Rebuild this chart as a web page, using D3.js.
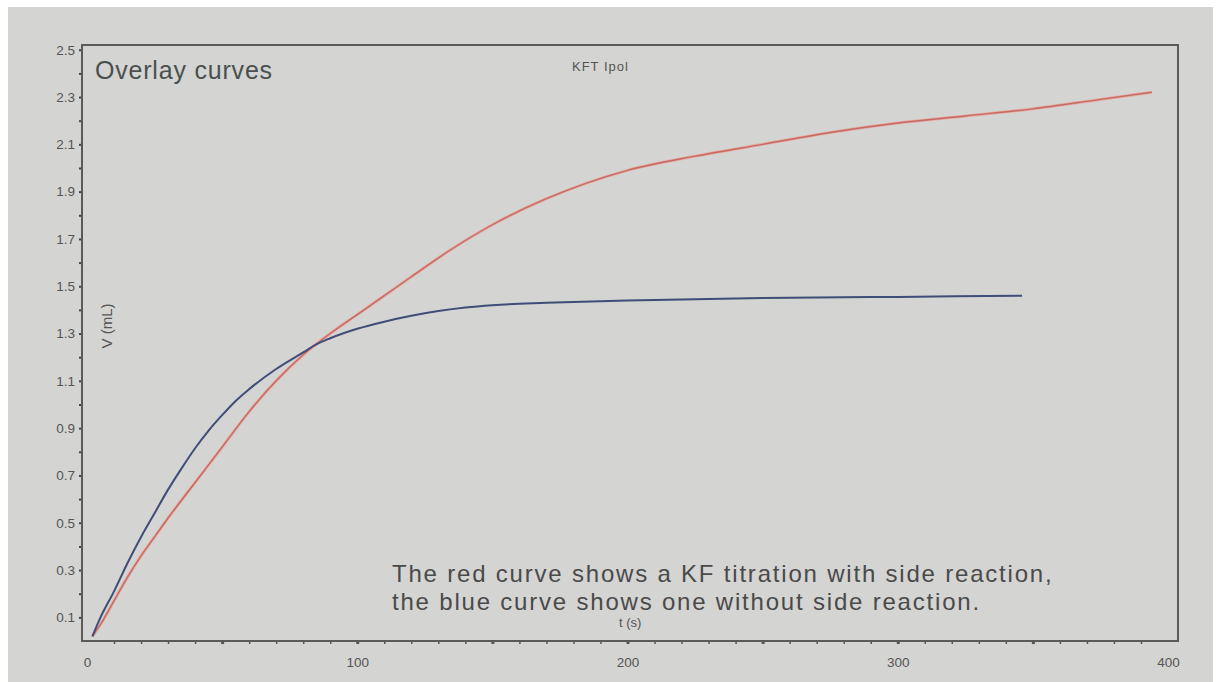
<!DOCTYPE html>
<html>
<head>
<meta charset="utf-8">
<script src="https://cdn.jsdelivr.net/npm/d3@7"></script>
<style>
  body { margin: 0; background: #fff; }
  text { font-family: "Liberation Sans", Arial, sans-serif; }
</style>
</head>
<body>
<div id="chart"></div>
<script>
const width = 1219, height = 682;

// red curve: KF titration with side reaction
const redT = [2, 5, 10, 15, 20, 25, 30, 40, 50, 60, 70, 80, 90, 100, 110, 120, 134, 150, 170, 200, 225, 250, 275, 300, 325, 350, 375, 394];
const redV = [0.02, 0.07, 0.17, 0.27, 0.36, 0.44, 0.52, 0.67, 0.82, 0.97, 1.10, 1.21, 1.30, 1.38, 1.46, 1.54, 1.65, 1.76, 1.87, 1.99, 2.05, 2.10, 2.15, 2.19, 2.22, 2.25, 2.29, 2.32];

// blue curve: without side reaction
const blueT = [2, 5, 10, 15, 20, 25, 30, 35, 40, 45, 50, 55, 60, 70, 80, 85, 90, 100, 110, 120, 130, 140, 150, 170, 200, 250, 300, 346];
const blueV = [0.02, 0.10, 0.21, 0.33, 0.44, 0.54, 0.64, 0.73, 0.815, 0.89, 0.955, 1.015, 1.065, 1.15, 1.22, 1.255, 1.28, 1.32, 1.35, 1.375, 1.395, 1.41, 1.42, 1.43, 1.44, 1.45, 1.455, 1.46];

const xTickLabels = ["0", "100", "200", "300", "400"];
const yTickLabels = ["0.1", "0.3", "0.5", "0.7", "0.9", "1.1", "1.3", "1.5", "1.7", "1.9", "2.1", "2.3", "2.5"];

const svg = d3.select("#chart")
  .append("svg")
  .attr("width", width)
  .attr("height", height);

// grey picture background
svg.append("rect")
  .attr("x", 8).attr("y", 7)
  .attr("width", 1205).attr("height", 675)
  .attr("fill", "#d4d4d2");

const x = d3.scaleLinear().domain([-1.85, 403.7]).range([82, 1178]);
const y = d3.scaleLinear().domain([0, 2.52]).range([641, 45]);

// minor ticks
const yMinor = d3.range(1, 26).map(d => d / 10);
svg.append("g")
  .attr("transform", `translate(${x.range()[0]},0)`)
  .call(d3.axisLeft(y).tickValues(yMinor).tickSize(3).tickFormat(""))
  .call(g => g.select(".domain").remove())
  .call(g => g.selectAll("line").attr("stroke", "#444").attr("stroke-width", 2));

const xMinor = d3.range(10, 400, 10);
svg.append("g")
  .attr("transform", `translate(0,${y.range()[0]})`)
  .call(d3.axisBottom(x).tickValues(xMinor).tickSize(3).tickFormat(""))
  .call(g => g.select(".domain").remove())
  .call(g => g.selectAll("line")
    .attr("stroke", "#555")
    .attr("stroke-width", d => d % 50 === 0 ? 3 : 1.5));

// tick labels
svg.append("g")
  .attr("transform", `translate(${x.range()[0]},0)`)
  .call(d3.axisLeft(y).tickValues(yTickLabels.map(Number)).tickSize(0).tickPadding(7).tickFormat(d3.format(".1f")))
  .call(g => g.select(".domain").remove())
  .call(g => g.selectAll("text")
    .attr("font-size", 13.5)
    .attr("fill", "#555")
    .style("font-family", "Liberation Sans, Arial, sans-serif"));

svg.append("g")
  .attr("transform", `translate(0,${y.range()[0]})`)
  .call(d3.axisBottom(x).tickValues(xTickLabels.map(Number)).tickSize(0).tickPadding(16).tickFormat(d3.format("d")))
  .call(g => g.select(".domain").remove())
  .call(g => g.selectAll("text")
    .attr("font-size", 13.5)
    .attr("fill", "#555")
    .style("font-family", "Liberation Sans, Arial, sans-serif"));

// frame
svg.append("rect")
  .attr("x", x.range()[0])
  .attr("y", y.range()[1])
  .attr("width", x.range()[1] - x.range()[0])
  .attr("height", y.range()[0] - y.range()[1])
  .attr("fill", "none")
  .attr("stroke", "#5a5a5a")
  .attr("stroke-width", 2);

const line = d3.line()
  .curve(d3.curveMonotoneX)
  .x(d => x(d[0]))
  .y(d => y(d[1]));

const red = redT.map((t, i) => [t, redV[i]]);
const blue = blueT.map((t, i) => [t, blueV[i]]);

svg.append("path")
  .datum(red)
  .attr("fill", "none")
  .attr("stroke", "#e4aaa2")
  .attr("stroke-width", 3)
  .attr("d", line);
svg.append("path")
  .datum(red)
  .attr("fill", "none")
  .attr("stroke", "#c66a62")
  .attr("stroke-width", 1.4)
  .attr("d", line);

svg.append("path")
  .datum(blue)
  .attr("fill", "none")
  .attr("stroke", "#3f4d78")
  .attr("stroke-width", 2)
  .attr("d", line);

// texts
svg.append("text")
  .attr("x", 95).attr("y", 79)
  .attr("font-size", 25)
  .attr("letter-spacing", 0.8)
  .attr("fill", "#4a5050")
  .text("Overlay curves");

svg.append("text")
  .attr("x", 572).attr("y", 71)
  .attr("font-size", 13)
  .attr("letter-spacing", 1)
  .attr("fill", "#555")
  .text("KFT Ipol");

svg.append("text")
  .attr("transform", `translate(112,326) rotate(-90)`)
  .attr("text-anchor", "middle")
  .attr("font-size", 15)
  .attr("fill", "#555")
  .text("V (mL)");

svg.append("text")
  .attr("x", x(201)).attr("y", 627)
  .attr("text-anchor", "middle")
  .attr("font-size", 13)
  .attr("fill", "#555")
  .text("t (s)");

svg.append("text")
  .attr("x", 392).attr("y", 582)
  .attr("font-size", 24)
  .attr("letter-spacing", 1.8)
  .attr("fill", "#4a4a4a")
  .text("The red curve shows a KF titration with side reaction,");
svg.append("text")
  .attr("x", 392).attr("y", 610)
  .attr("font-size", 24)
  .attr("letter-spacing", 1.8)
  .attr("fill", "#4a4a4a")
  .text("the blue curve shows one without side reaction.");
</script>
</body>
</html>
